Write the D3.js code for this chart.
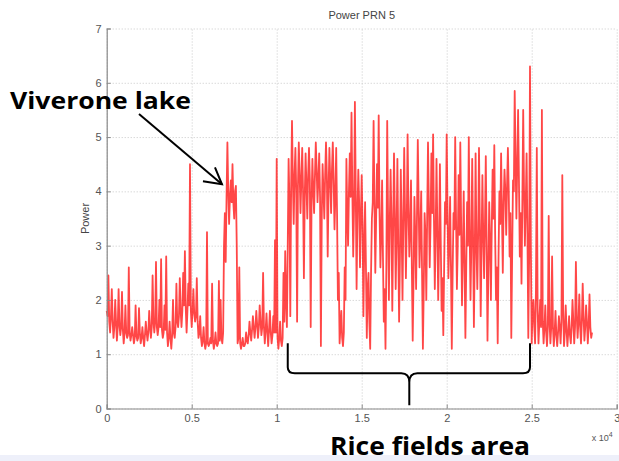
<!DOCTYPE html>
<html>
<head>
<meta charset="utf-8">
<script src="https://cdn.jsdelivr.net/npm/d3@7"></script>
<style>
  body { margin: 0; background: #fff; }
  text { font-family: "Liberation Sans", Arial, sans-serif; }
</style>
</head>
<body>
<div id="chart"></div>
<script>
var width = 619;
var height = 461;
var margin = { top: 28.5, right: 2.3, bottom: 52.5, left: 106.7 };

// one reading every 100 samples: the excursion (peak) and the dense level in between
var sampleStep = 100;
var peakPower = [
    1.8, 2.45, 1.4, 2.2, 1.3, 2.0, 1.25, 2.2, 1.35, 2.15, 1.2, 1.9, 1.3, 2.6, 1.25,
    1.5, 1.2, 1.9, 1.25, 1.85, 1.2, 1.5, 1.15, 1.6, 1.25,
    1.8, 1.3, 2.45, 1.4, 2.7, 1.35,
    2.0, 2.75, 1.3, 1.9, 2.8,
    1.15, 1.6, 1.1, 2.0,
    1.3, 2.3, 1.5, 2.4,
    1.5, 2.5, 2.9, 1.4, 2.3,
    4.5,
    1.5, 2.2, 1.6, 2.4,
    1.3, 1.7, 1.15, 1.5, 1.1,
    3.25,
    1.15, 1.3, 2.3,
    1.1, 1.4, 1.15, 2.35, 2.0, 1.2,
    3.0, 2.7, 4.9, 3.4, 4.2, 4.5, 3.5, 4.1,
    1.2, 2.6, 1.1, 1.3, 1.15, 1.4,
    1.2, 1.6, 1.25, 1.7, 1.3, 1.8, 1.3, 1.9, 1.35, 2.5,
    1.2, 1.75, 1.15, 1.8, 1.2, 1.7,
    3.1, 4.6,
    1.1, 1.6, 1.15, 2.5,
    2.9, 1.5, 4.6, 1.7, 5.3, 3.4, 4.8, 1.6, 4.9, 3.6,
    4.8, 2.4, 4.7, 3.5, 4.8, 1.5, 4.6, 3.6, 4.9, 3.8,
    4.7, 1.15, 4.5, 3.5, 4.9, 2.8, 4.8, 3.6, 4.9, 3.3,
    4.8, 2.0, 1.2, 1.8, 1.15, 2.6, 4.6, 3.0, 4.7, 5.45,
    2.8, 5.65, 2.2, 4.4, 2.6, 4.3, 1.7, 3.8, 1.3, 2.5,
    1.1, 3.5, 5.3, 2.5, 4.5, 5.4, 2.6, 4.2, 1.6, 1.1,
    5.3, 2.0, 4.4, 1.8, 4.7, 2.2, 4.6, 1.6, 4.4, 2.0,
    4.8, 2.4, 5.05, 2.8, 4.2, 1.25, 3.9, 2.2, 4.95, 2.6,
    4.0, 1.1, 3.6, 2.0, 4.9, 2.6, 4.7, 5.05, 2.2, 4.6,
    2.0, 4.5, 1.8, 1.35, 3.8, 5.05, 2.4, 3.9, 1.1, 3.6,
    5.0, 2.2, 4.3, 4.9, 1.9, 4.0, 1.3, 3.8, 5.0, 2.0,
    4.6, 1.5, 4.7, 2.2, 4.8, 1.7, 4.3, 2.4, 4.65, 1.25,
    3.8, 2.0, 4.4, 4.85, 2.0, 1.2, 4.0, 4.7, 2.5, 4.4,
    3.2, 4.8, 2.8, 1.3, 4.2, 5.85, 3.5, 5.5, 2.8, 2.3,
    5.5, 3.0, 4.7, 1.3, 6.3, 1.2, 2.0, 1.2, 4.8,
    1.2, 2.0, 5.5, 1.2, 1.9, 1.15, 3.55, 1.2, 2.8, 1.15,
    1.8, 1.15, 1.7, 1.2, 4.3, 1.15, 1.9, 1.15, 1.7, 1.2,
    2.0, 1.2, 2.7, 1.3, 2.1, 1.2, 2.3, 1.25, 1.9, 1.2, 2.1, 1.3
];
var levelPower = [
    1.7, 1.6, 1.7, 1.6, 1.5, 1.6, 1.5, 1.55, 1.5, 1.45, 1.4, 1.4, 1.35, 1.4, 1.35,
    1.35, 1.3, 1.35, 1.3, 1.4, 1.3, 1.3, 1.35, 1.4, 1.4,
    1.5, 1.5, 1.6, 1.6, 1.5, 1.5,
    1.5, 1.45, 1.4, 1.45, 1.4,
    1.3, 1.3, 1.35, 1.4,
    1.5, 1.6, 1.7, 1.8,
    1.8, 1.9, 1.85, 1.8, 1.9,
    1.8,
    1.8, 1.75, 1.7, 1.6,
    1.4, 1.3, 1.25, 1.2, 1.2,
    1.2,
    1.2, 1.2, 1.25,
    1.2, 1.2, 1.2, 1.25, 1.3, 1.4,
    3.6, 3.9, 4.0, 3.9, 3.8, 3.8, 4.0, 3.0,
    1.3, 1.2, 1.2, 1.15, 1.2, 1.25,
    1.35, 1.4, 1.45, 1.5, 1.5, 1.55, 1.5, 1.6, 1.5, 1.5,
    1.45, 1.4, 1.45, 1.4, 1.35, 1.4,
    1.4, 1.3,
    1.3, 1.25, 1.3, 1.6,
    2.0, 3.0, 3.8, 4.1, 4.2, 4.3, 4.0, 4.1, 4.3, 4.2,
    4.0, 3.9, 4.1, 4.3, 4.2, 3.8, 4.0, 4.3, 4.4, 4.2,
    3.9, 3.5, 4.0, 4.3, 4.3, 4.0, 4.2, 4.4, 4.2, 3.9,
    3.6, 2.5, 1.5, 1.3, 1.4, 2.0, 3.6, 4.0, 3.9, 4.0,
    3.7, 4.0, 3.6, 3.8, 3.5, 3.4, 3.0, 2.6, 2.2, 1.6,
    2.5, 3.8, 3.8, 3.5, 3.7, 3.6, 3.2, 2.8, 2.2, 2.6,
    3.6, 3.4, 3.5, 3.3, 3.6, 3.2, 3.0, 2.8, 3.3, 3.5,
    3.6, 3.4, 3.7, 3.3, 2.6, 2.4, 3.2, 3.5, 3.8, 3.2,
    2.5, 2.2, 3.2, 3.5, 3.8, 3.4, 3.6, 3.5, 3.2, 3.3,
    3.0, 3.1, 2.4, 2.6, 3.4, 3.6, 3.0, 2.6, 2.5, 3.3,
    3.5, 3.0, 3.2, 3.4, 2.8, 2.7, 2.6, 3.0, 3.3, 3.0,
    3.2, 2.8, 3.0, 3.2, 3.4, 3.0, 3.2, 3.4, 3.0, 2.5,
    3.1, 3.3, 3.5, 3.2, 2.6, 2.8, 3.4, 3.6, 3.8, 4.0,
    4.1, 4.0, 3.6, 2.8, 4.0, 4.6, 4.5, 4.2, 3.6, 3.8,
    4.0, 3.8, 3.2, 2.8, 3.0, 1.8, 1.5, 2.2, 1.8,
    1.6, 1.5, 1.6, 1.5, 1.4, 1.5, 1.6, 1.5, 1.5, 1.4,
    1.35, 1.4, 1.5, 1.6, 1.8, 1.4, 1.45, 1.4, 1.35, 1.5,
    1.6, 1.5, 1.7, 1.6, 1.5, 1.6, 1.7, 1.5, 1.6, 1.5, 1.5, 1.4
];

var xTicks = [0, 5000, 10000, 15000, 20000, 25000, 30000];
var xTickLabels = ["0", "0.5", "1", "1.5", "2", "2.5", "3"];
var yTicks = [0, 1, 2, 3, 4, 5, 6, 7];

// interleave the two readings into one trace
var trace = [];
peakPower.forEach(function(p, i) {
    trace.push({ s: i * sampleStep, v: p });
    trace.push({ s: i * sampleStep + sampleStep / 2, v: levelPower[i] });
});

var xScale = d3.scaleLinear()
    .domain([0, 30000])
    .range([margin.left, width - margin.right]);

var yScale = d3.scaleLinear()
    .domain([0, 7])
    .range([height - margin.bottom, margin.top]);

var svg = d3.select("#chart")
    .append("svg")
    .attr("width", width)
    .attr("height", height);

// faint strip at the bottom of the slide
svg.append("rect")
    .attr("x", 0).attr("y", 455)
    .attr("width", width).attr("height", 6)
    .attr("fill", "#eef0fa");

var plotW = xScale.range()[1] - xScale.range()[0];
var plotH = yScale.range()[0] - yScale.range()[1];

// dotted grid
svg.append("g")
    .attr("transform", "translate(0," + yScale(0) + ")")
    .call(d3.axisBottom(xScale).tickValues(xTicks).tickSize(-plotH).tickFormat(""))
    .call(function(g) { g.select(".domain").remove(); })
    .selectAll("line")
    .attr("stroke", "#c8c8c8")
    .attr("stroke-dasharray", "1,2");

svg.append("g")
    .attr("transform", "translate(" + xScale(0) + ",0)")
    .call(d3.axisLeft(yScale).tickValues(yTicks).tickSize(-plotW).tickFormat(""))
    .call(function(g) { g.select(".domain").remove(); })
    .selectAll("line")
    .attr("stroke", "#c8c8c8")
    .attr("stroke-dasharray", "1,2");

// signal
var line = d3.line()
    .x(function(d) { return xScale(d.s); })
    .y(function(d) { return yScale(d.v); });

svg.append("path")
    .datum(trace)
    .attr("fill", "none")
    .attr("stroke", "#ff0000")
    .attr("stroke-width", 1.8)
    .attr("stroke-opacity", 0.72)
    .attr("stroke-linejoin", "round")
    .attr("d", line);

// axes
var xAxis = svg.append("g")
    .attr("transform", "translate(0," + yScale(0) + ")")
    .call(d3.axisBottom(xScale).tickValues(xTicks)
        .tickFormat(function(d, i) { return xTickLabels[i]; })
        .tickSize(-4).tickPadding(6));

var yAxis = svg.append("g")
    .attr("transform", "translate(" + xScale(0) + ",0)")
    .call(d3.axisLeft(yScale).tickValues(yTicks).tickFormat(d3.format("d"))
        .tickSize(-4).tickPadding(5));

[xAxis, yAxis].forEach(function(g) {
    g.select(".domain").attr("stroke", "#8a8a8a").attr("stroke-width", 1.2);
    g.selectAll(".tick line").attr("stroke", "#8a8a8a");
    g.selectAll(".tick text")
        .attr("fill", "#555")
        .style("font-size", "11px")
        .style("font-family", "'Liberation Sans', Arial, sans-serif");
});

// exponent label
var expo = svg.append("text")
    .attr("x", xScale(30000) - 25)
    .attr("y", yScale(0) + 32)
    .attr("fill", "#555")
    .style("font-size", "9px");
expo.append("tspan").text("x 10");
expo.append("tspan").attr("dy", -4).style("font-size", "7px").text("4");

// title and y label
svg.append("text")
    .attr("x", (xScale.range()[0] + xScale.range()[1]) / 2)
    .attr("y", 19)
    .attr("text-anchor", "middle")
    .attr("fill", "#444")
    .style("font-size", "11px")
    .text("Power PRN 5");

svg.append("text")
    .attr("transform", "translate(89," + ((yScale(0) + yScale(7)) / 2) + ") rotate(-90)")
    .attr("text-anchor", "middle")
    .attr("fill", "#444")
    .style("font-size", "11px")
    .text("Power");

// annotations
svg.append("text")
    .attr("x", 10)
    .attr("y", 109)
    .attr("textLength", 181)
    .attr("lengthAdjust", "spacingAndGlyphs")
    .style("font-family", "'Open Sans', sans-serif")
    .style("font-weight", "bold")
    .style("font-size", "23px")
    .attr("fill", "#000")
    .text("Viverone lake");

var tipX = xScale(6780), tipY = yScale(4.13);
svg.append("line")
    .attr("x1", 139).attr("y1", 114)
    .attr("x2", tipX).attr("y2", tipY)
    .attr("stroke", "#000").attr("stroke-width", 2);
svg.append("path")
    .attr("d", "M" + (tipX - 19) + "," + (tipY - 3) + "L" + tipX + "," + tipY + "L" + (tipX - 7) + "," + (tipY - 17))
    .attr("fill", "none")
    .attr("stroke", "#000").attr("stroke-width", 2);

// brace under the rice fields
var bL = xScale(10650), bR = xScale(24900), bM = xScale(17800);
var bTop = yScale(1.2), bMid = yScale(0.65), bTip = yScale(0.06);
svg.append("path")
    .attr("d",
        "M" + bL + "," + bTop +
        "L" + bL + "," + (bMid - 6) +
        "Q" + bL + "," + bMid + " " + (bL + 7) + "," + bMid +
        "L" + (bM - 8) + "," + bMid +
        "Q" + bM + "," + bMid + " " + bM + "," + (bMid + 9) +
        "L" + bM + "," + bTip +
        "M" + bM + "," + (bMid + 9) +
        "Q" + bM + "," + bMid + " " + (bM + 8) + "," + bMid +
        "L" + (bR - 7) + "," + bMid +
        "Q" + bR + "," + bMid + " " + bR + "," + (bMid - 6) +
        "L" + bR + "," + bTop)
    .attr("fill", "none")
    .attr("stroke", "#000")
    .attr("stroke-width", 2);

svg.append("text")
    .attr("x", 330)
    .attr("y", 455)
    .attr("textLength", 200)
    .attr("lengthAdjust", "spacingAndGlyphs")
    .style("font-family", "'Open Sans', sans-serif")
    .style("font-weight", "bold")
    .style("font-size", "25px")
    .attr("fill", "#000")
    .text("Rice fields area");
</script>
</body>
</html>
